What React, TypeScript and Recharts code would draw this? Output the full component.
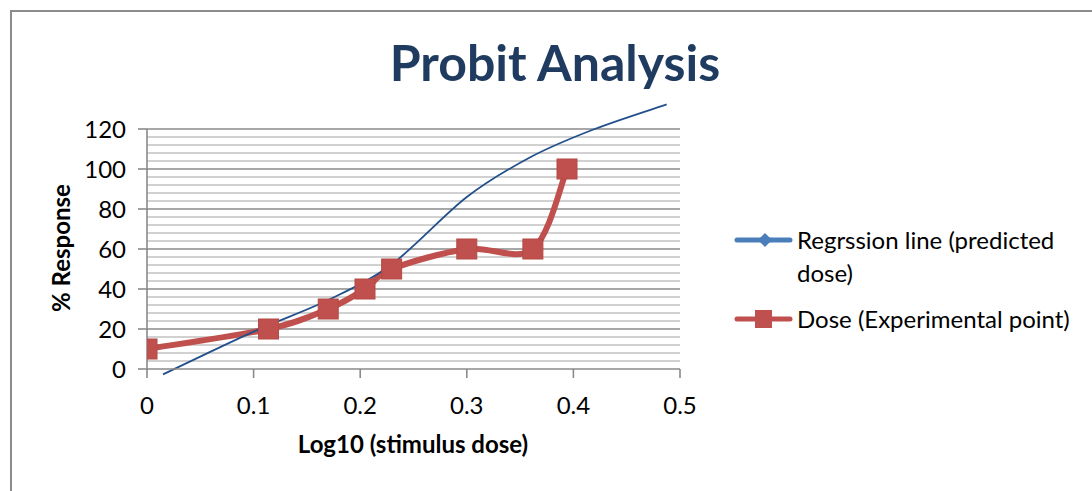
import React from 'react';
import { Line, LineChart, ReferenceLine, XAxis, YAxis } from 'recharts';

// experimental points: log10 dose vs % response
const DOSE_X = [0, 0.114, 0.17, 0.2045, 0.2295, 0.3, 0.362, 0.394];
const DOSE_Y = [10, 20, 30, 40, 50, 60, 60, 100];

// regression (predicted) curve
const PRED_X = [0.015, 0.1, 0.17, 0.23, 0.3, 0.36, 0.42, 0.4875];
const PRED_Y = [-2.7, 18.7, 34.5, 52.5, 86, 106, 120, 132.3];

const X_TICKS = [0, 0.1, 0.2, 0.3, 0.4, 0.5];
const Y_TICKS = [0, 20, 40, 60, 80, 100, 120];
const MINOR_Y = [4, 8, 12, 16, 24, 28, 32, 36, 44, 48, 52, 56, 64, 68, 72, 76, 84, 88, 92, 96, 104, 108, 112, 116];

const TITLE = 'Probit Analysis';
const X_TITLE = 'Log10 (stimulus dose)';
const Y_TITLE = '% Response';
const PRED_NAME = ['Regrssion line (predicted', 'dose)'];
const DOSE_NAME = 'Dose (Experimental point)';

const RED = '#c0504d';
const NAVY = '#23508c';
const GRID_MAJOR = '#8a8a8a';
const GRID_MINOR = '#c2c2c2';
const FONT = 'Lato, "Open Sans", sans-serif';

const doseData = DOSE_X.map((x, i) => ({ x, y: DOSE_Y[i] }));
const predData = PRED_X.map((x, i) => ({ x, y: PRED_Y[i] }));

// Excel-like smoothed line (Catmull-Rom through every point)
function smoothCurve(context: any) {
  let pts: number[][] = [];
  return {
    areaStart() {},
    areaEnd() {},
    lineStart() {
      pts = [];
    },
    point(x: number, y: number) {
      pts.push([+x, +y]);
    },
    lineEnd() {
      if (!pts.length) return;
      context.moveTo(pts[0][0], pts[0][1]);
      for (let i = 0; i < pts.length - 1; i++) {
        const p0 = pts[i - 1] || pts[i];
        const p1 = pts[i];
        const p2 = pts[i + 1];
        const p3 = pts[i + 2] || p2;
        context.bezierCurveTo(
          p1[0] + (p2[0] - p0[0]) / 6,
          p1[1] + (p2[1] - p0[1]) / 6,
          p2[0] - (p3[0] - p1[0]) / 6,
          p2[1] - (p3[1] - p1[1]) / 6,
          p2[0],
          p2[1],
        );
      }
    },
  };
}

const SquareDot = (props: any) => {
  const { cx, cy, index } = props;
  if (cx == null || cy == null) return <g key={index} />;
  return <rect key={index} x={cx - 10} y={cy - 10} width={20} height={20} fill={RED} stroke="#b44946" strokeWidth={1} />;
};

export default function App() {
  return (
    <div
      style={{
        position: 'absolute',
        left: 0,
        top: 0,
        width: 1092,
        height: 491,
        background: '#fff',
        overflow: 'hidden',
        fontFamily: FONT,
      }}
    >
      <style>{'.pred-line, .pred-line * { clip-path: none !important; }'}</style>
      <div
        style={{
          position: 'absolute',
          left: 10,
          top: 10,
          width: 1200,
          height: 600,
          border: '2px solid #8c8c8c',
        }}
      />
      <div style={{ position: 'absolute', left: 0, top: 0 }}>
        <LineChart
          width={1092}
          height={491}
          margin={{ top: 129, right: 412, bottom: 82, left: 87 }}
          style={{ fontFamily: FONT }}
        >
          {MINOR_Y.map((v) => (
            <ReferenceLine key={'m' + v} y={v} stroke={GRID_MINOR} strokeWidth={1.6} />
          ))}
          {Y_TICKS.slice(1).map((v) => (
            <ReferenceLine key={'M' + v} y={v} stroke={GRID_MAJOR} strokeWidth={1.6} />
          ))}
          <XAxis
            type="number"
            dataKey="x"
            domain={[0, 0.5]}
            ticks={X_TICKS}
            allowDataOverflow
            height={40}
            stroke={GRID_MAJOR}
            strokeWidth={1.6}
            tickSize={9}
            tickMargin={19}
            tick={{ fill: '#000', fontSize: 24 }}
            tickFormatter={(v: number) => String(v)}
          />
          <YAxis
            type="number"
            dataKey="y"
            domain={[0, 120]}
            ticks={Y_TICKS}
            allowDataOverflow
            width={60}
            stroke={GRID_MAJOR}
            strokeWidth={1.6}
            tickSize={9}
            tickMargin={12}
            tick={{ fill: '#000', fontSize: 24 }}
          />
          <Line
            data={doseData}
            dataKey="y"
            type={smoothCurve as any}
            stroke={RED}
            strokeWidth={6}
            dot={SquareDot}
            activeDot={false}
            isAnimationActive={false}
          />
          <Line
            className="pred-line"
            data={predData}
            dataKey="y"
            type={smoothCurve as any}
            stroke={NAVY}
            strokeWidth={1.8}
            dot={false}
            activeDot={false}
            isAnimationActive={false}
          />
        </LineChart>
      </div>
      <svg
        width={1092}
        height={491}
        style={{ position: 'absolute', left: 0, top: 0, pointerEvents: 'none', fontFamily: FONT }}
      >
        <text x={555} y={81} textAnchor="middle" fontSize={50} fontWeight="bold" fill="#1f3b5f">
          {TITLE}
        </text>
        <text x={413} y={453} textAnchor="middle" fontSize={24} fontWeight="bold" fill="#000">
          {X_TITLE}
        </text>
        <text
          x={70}
          y={248}
          textAnchor="middle"
          fontSize={24}
          fontWeight="bold"
          fill="#000"
          transform="rotate(-90 70 248)"
        >
          {Y_TITLE}
        </text>
        {/* legend */}
        <line x1={737} y1={240} x2={790} y2={240} stroke="#4a7ebb" strokeWidth={5} strokeLinecap="round" />
        <rect x={760} y={235} width={10} height={10} fill="#4a7ebb" transform="rotate(45 765 240)" />
        <text x={797} y={249} fontSize={24} fill="#000">
          {PRED_NAME[0]}
        </text>
        <text x={797} y={282} fontSize={24} fill="#000">
          {PRED_NAME[1]}
        </text>
        <line x1={737} y1={319} x2={790} y2={319} stroke={RED} strokeWidth={5} strokeLinecap="round" />
        <rect x={755} y={310} width={17} height={18} fill={RED} />
        <text x={797} y={328} fontSize={24} fill="#000">
          {DOSE_NAME}
        </text>
      </svg>
    </div>
  );
}
